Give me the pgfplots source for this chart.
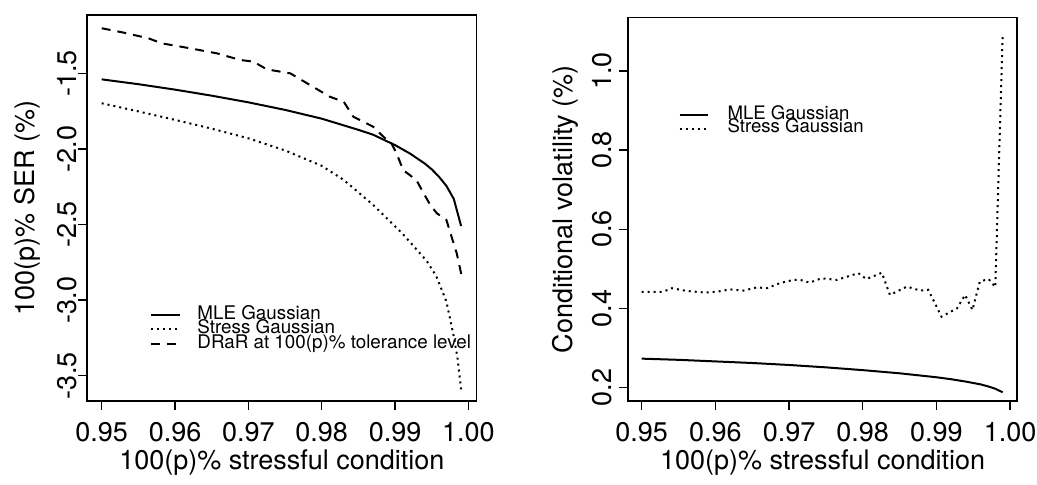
\documentclass[border=0pt]{standalone}
\usepackage{pgfplots}
\pgfplotsset{compat=1.18}
\usepackage{fontspec}
\setmainfont{TeX Gyre Heros}

\pgfplotsset{
  common/.style={
    scale only axis,
    anchor=south west,
    tick align=outside,
    tick pos=left,
    major tick length=4.5pt,
    every tick/.style={black, line width=0.7pt},
    axis line style={line width=0.9pt},
    xtick={0.95,0.96,0.97,0.98,0.99,1.00},
    xticklabels={0.95,0.96,0.97,0.98,0.99,1.00},
    /pgf/number format/assume math mode=true,
    ticklabel style={font=\fontsize{13.5}{16}\selectfont},
    xticklabel style={anchor=center, yshift=-11pt},
    every axis x label/.style={at={(axis description cs:0.5,0)}, yshift=-30.8pt, anchor=center, font=\fontsize{13.5}{16}\selectfont},
    xlabel={100(p)\% stressful condition},
    legend cell align=left,
    clip=false,
  },
  solidl/.style={black, line width=1pt},
  dottedl/.style={black, line width=1pt, dash pattern=on 1pt off 2pt},
  dashedl/.style={black, line width=1pt, dash pattern=on 4.5pt off 3.5pt},
}

\begin{document}
\begin{tikzpicture}
\useasboundingbox (0pt,0pt) rectangle (518.5pt,242.5pt);

\begin{axis}[common,
  at={(43.65pt,42pt)}, width=194.6pt, height=193pt,
  xmin=0.94804, xmax=1.0011, ymin=-3.667, ymax=-1.1144,
  ytick={-3.5,-3,-2.5,-2,-1.5},
  yticklabels={-3.5,-3.0,-2.5,-2.0,-1.5},
  yticklabel style={xshift=-5.45pt, rotate=90, anchor=center},
  every axis y label/.style={at={(axis description cs:0,0.5)}, xshift=-30pt, rotate=90, anchor=center, font=\fontsize{13.5}{16}\selectfont},
  ylabel={100(p)\% SER (\%)},
  legend style={at={(axis cs:0.9566,-3.05)}, anchor=north west, draw=none, fill=none, inner sep=0pt, row sep=0.2pt, column sep=8pt,
    font=\fontsize{9.4}{11}\selectfont, nodes={inner sep=0pt, text height=5.6pt, text depth=1.4pt}},
  legend image code/.code={\draw[#1] (0pt,0pt) -- (14.5pt,0pt);},
]
\addplot[solidl] coordinates {
(0.950,-1.540) (0.955,-1.572) (0.960,-1.608) (0.965,-1.648) (0.970,-1.692)
(0.975,-1.742) (0.980,-1.800) (0.985,-1.874) (0.987,-1.906) (0.990,-1.975)
(0.992,-2.030) (0.994,-2.095) (0.995,-2.135) (0.996,-2.185) (0.997,-2.245)
(0.998,-2.330) (0.999,-2.510)
};
\addlegendentry{MLE Gaussian}
\addplot[dottedl] coordinates {
(0.950,-1.698) (0.955,-1.752) (0.960,-1.808) (0.965,-1.866) (0.970,-1.930)
(0.975,-2.010) (0.980,-2.112) (0.983,-2.205) (0.987,-2.370) (0.991,-2.560)
(0.9943,-2.740) (0.9956,-2.840) (0.997,-3.010) (0.998,-3.240) (0.9985,-3.380)
(0.999,-3.590)
};
\addlegendentry{Stress Gaussian}
\addplot[dashedl] coordinates {
(0.950,-1.202) (0.953,-1.231) (0.9564,-1.269) (0.9582,-1.302) (0.9621,-1.335)
(0.9657,-1.368) (0.9689,-1.412) (0.9707,-1.423) (0.9725,-1.474) (0.9757,-1.500)
(0.9780,-1.566) (0.9811,-1.655) (0.9830,-1.688) (0.9843,-1.787) (0.9870,-1.853)
(0.9884,-1.919) (0.9895,-1.963) (0.9902,-2.029) (0.9911,-2.140) (0.9929,-2.206)
(0.9939,-2.294) (0.9948,-2.371) (0.9957,-2.426) (0.9970,-2.470) (0.9977,-2.581)
(0.9984,-2.690) (0.9991,-2.845)
};
\addlegendentry{DRaR at 100(p)\% tolerance level}
\end{axis}

\begin{axis}[common,
  at={(314.15pt,42pt)}, width=194.35pt, height=191.75pt,
  xmin=0.94818, xmax=1.00095, ymin=0.166, ymax=1.135,
  ytick={0.2,0.4,0.6,0.8,1.0},
  yticklabels={0.2,0.4,0.6,0.8,1.0},
  yticklabel style={xshift=-8.65pt, rotate=90, anchor=center},
  every axis y label/.style={at={(axis description cs:0,0.5)}, xshift=-31.6pt, rotate=90, anchor=center, font=\fontsize{13.5}{16}\selectfont},
  ylabel={Conditional volatility (\%)},
  legend style={at={(axis cs:0.95497,0.905)}, anchor=north west, draw=none, fill=none, inner sep=0pt, row sep=0.4pt, column sep=9.2pt,
    font=\fontsize{9.3}{11}\selectfont, nodes={inner sep=0pt, text height=5.1pt, text depth=1.25pt}},
  legend image code/.code={\draw[#1] (0pt,0pt) -- (14.2pt,0pt);},
]
\addplot[solidl] coordinates {
(0.950,0.273) (0.955,0.270) (0.960,0.266) (0.965,0.262) (0.970,0.257)
(0.975,0.251) (0.980,0.244) (0.985,0.236) (0.990,0.226) (0.992,0.221)
(0.994,0.215) (0.996,0.208) (0.997,0.203) (0.998,0.197) (0.999,0.188)
};
\addlegendentry{MLE Gaussian}
\addplot[dottedl] coordinates {
(0.9500,0.442) (0.9529,0.442) (0.9541,0.451) (0.9561,0.444) (0.9586,0.440)
(0.9602,0.442) (0.9620,0.448) (0.9638,0.445) (0.9656,0.453) (0.9670,0.451)
(0.9688,0.464) (0.9706,0.472) (0.9715,0.472) (0.9728,0.465) (0.9744,0.476)
(0.9765,0.472) (0.9794,0.489) (0.9805,0.474) (0.9826,0.490) (0.9837,0.434)
(0.9860,0.455) (0.9878,0.445) (0.9889,0.447) (0.9907,0.379) (0.9928,0.400)
(0.9939,0.434) (0.9949,0.396) (0.9959,0.468) (0.9971,0.474) (0.9980,0.454)
(0.9990,1.091)
};
\addlegendentry{Stress Gaussian}
\end{axis}
\end{tikzpicture}
\end{document}
